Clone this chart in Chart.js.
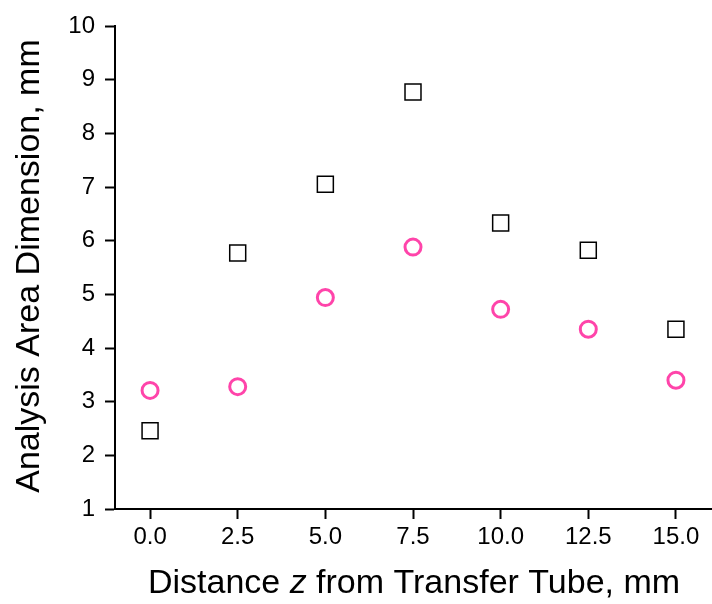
<!DOCTYPE html>
<html>
<head>
<meta charset="utf-8">
<script src="https://cdn.jsdelivr.net/npm/chart.js@4"></script>
<style>
  html, body { margin: 0; padding: 0; background: #fff; }
  #wrap { width: 712px; height: 604px; }
</style>
</head>
<body>
<div id="wrap"><canvas id="grafico" width="712" height="604"></canvas></div>
<script>
// Datos
const distancias = [0, 2.5, 5, 7.5, 10, 12.5, 15];
const serieCuadrados = [2.46, 5.77, 7.05, 8.77, 6.33, 5.82, 4.35];
const serieCirculos = [3.21, 3.28, 4.94, 5.88, 4.72, 4.35, 3.40];
const ticksX = [0, 2.5, 5, 7.5, 10, 12.5, 15];

const fuente = "'Liberation Sans', Arial, sans-serif";

const puntos = (ys) => distancias.map((x, i) => ({ x: x, y: ys[i] }));

// títulos de ejes dibujados a mano (la z va en cursiva)
const titulos = {
  id: 'titulos',
  afterDraw(chart) {
    const c = chart.ctx;
    c.save();
    c.fillStyle = '#000';
    c.textBaseline = 'middle';
    const partes = [
      ['Distance ', 'normal'],
      ['z', 'italic'],
      [' from Transfer Tube, mm', 'normal']
    ];
    let total = 0;
    partes.forEach(p => { c.font = p[1] + ' 34px ' + fuente; total += c.measureText(p[0]).width; });
    let x = 414 - total / 2;
    partes.forEach(p => {
      c.font = p[1] + ' 34px ' + fuente;
      c.textAlign = 'left';
      c.fillText(p[0], x, 584);
      x += c.measureText(p[0]).width;
    });
    c.translate(30, 266);
    c.rotate(-Math.PI / 2);
    c.font = '34px ' + fuente;
    c.textAlign = 'center';
    c.fillText('Analysis Area Dimension, mm', 0, 0);
    c.restore();
  }
};

new Chart(document.getElementById('grafico').getContext('2d'), {
  type: 'scatter',
  data: {
    datasets: [{
      label: 'cuadrados',
      data: puntos(serieCuadrados),
      pointStyle: 'rect',
      pointRadius: 11.3,
      pointHoverRadius: 11.3,
      borderColor: '#000',
      backgroundColor: 'rgba(0,0,0,0)',
      borderWidth: 1.5
    }, {
      label: 'circulos',
      data: puntos(serieCirculos),
      pointStyle: 'circle',
      pointRadius: 8,
      pointHoverRadius: 8,
      borderColor: '#ff44aa',
      backgroundColor: 'rgba(0,0,0,0)',
      borderWidth: 3
    }]
  },
  options: {
    responsive: false,
    animation: false,
    layout: { autoPadding: false, padding: { top: 26, right: 1, left: 0, bottom: 0 } },
    plugins: {
      legend: { display: false },
      tooltip: { enabled: false }
    },
    scales: {
      x: {
        type: 'linear',
        min: -1,
        max: 16,
        afterBuildTicks: (ax) => { ax.ticks = ticksX.map(v => ({ value: v })); },
        afterFit: (ax) => { ax.height = 95; ax.paddingLeft = 0; ax.paddingRight = 0; },
        ticks: {
          color: '#000',
          font: { family: fuente, size: 24 },
          padding: 4,
          maxRotation: 0,
          callback: (v) => Number(v).toFixed(1)
        },
        grid: { drawOnChartArea: false, drawTicks: true, tickLength: 10, tickWidth: 2, color: '#000' },
        border: { display: true, color: '#000', width: 2 }
      },
      y: {
        min: 1,
        max: 10,
        afterFit: (ax) => { ax.width = 115; },
        ticks: {
          stepSize: 1,
          color: '#000',
          font: { family: fuente, size: 24 },
          padding: 10
        },
        grid: { drawOnChartArea: false, drawTicks: true, tickLength: 10, tickWidth: 2, color: '#000' },
        border: { display: true, color: '#000', width: 2 }
      }
    }
  },
  plugins: [titulos]
});
</script>
</body>
</html>
